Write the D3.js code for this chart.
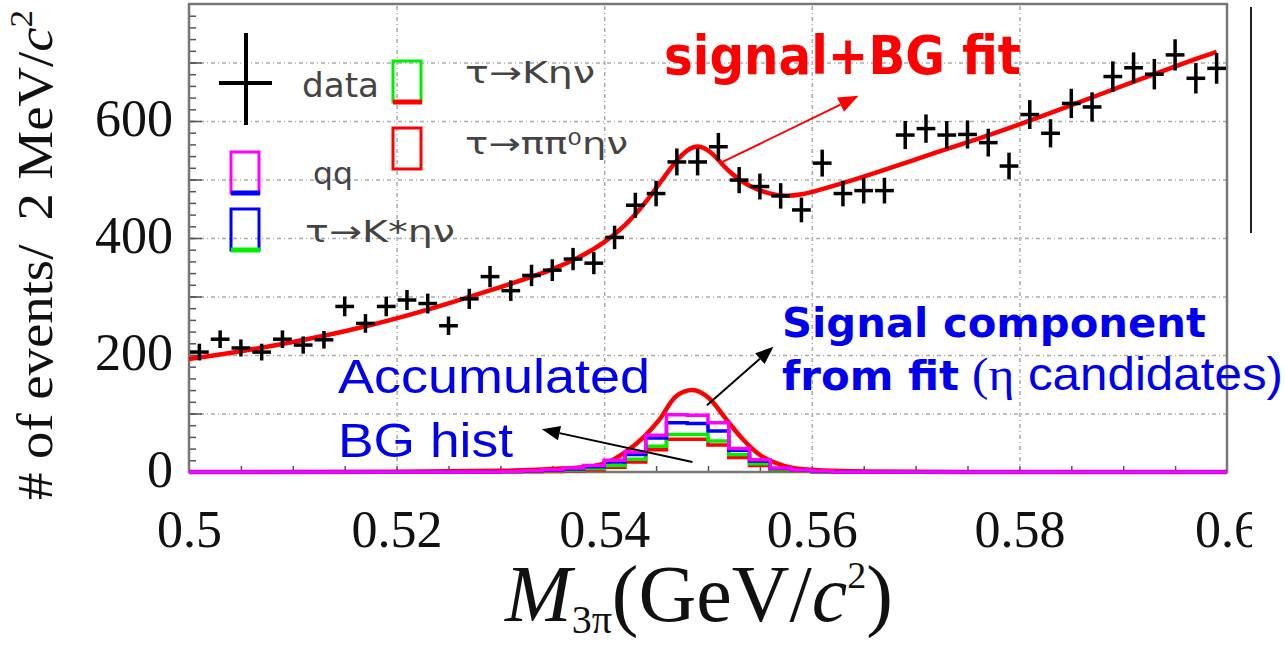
<!DOCTYPE html>
<html>
<head>
<meta charset="utf-8">
<script src="https://cdn.jsdelivr.net/npm/d3@7"></script>
<style>
body { margin: 0; background: white; }
svg { display: block; }
</style>
</head>
<body>
<svg id="chart" width="1285" height="646"></svg>
<script>
// M(3pi) spectrum, 2 MeV bins from 0.500 to 0.600 GeV/c^2
var binStart = 0.5, binWidth = 0.002;
var eventCounts = [205, 227, 212, 205, 227, 217, 226, 283, 254, 283,
                   294, 288, 250, 296, 334, 310, 336, 345, 364, 357,
                   401, 456, 476, 530, 530, 556, 499, 488, 472, 448,
                   528, 476, 481, 481, 576, 587, 576, 577, 563, 523,
                   611, 579, 630, 624, 676, 691, 680, 713, 673, 690];

// signal + BG fit
var fitMass = [0.500, 0.505, 0.510, 0.515, 0.520, 0.525, 0.530, 0.535, 0.538, 0.540,
               0.542, 0.544, 0.546, 0.5475, 0.549, 0.5505, 0.552, 0.554, 0.556, 0.5575,
               0.559, 0.5605, 0.564, 0.568, 0.572, 0.576, 0.580, 0.584, 0.588, 0.592, 0.596, 0.599];
var fitValue = [193, 206, 222, 240, 262, 288, 316, 345, 370, 392,
                420, 460, 510, 545, 562, 545, 512, 487, 475, 471,
                474, 481, 499, 522, 547, 569, 594, 620, 647, 674, 700, 718];

// signal component from fit (eta candidates)
var sigMass = [0.500, 0.520, 0.530, 0.535, 0.5389, 0.5405, 0.5421, 0.5437, 0.5453, 0.5469, 0.5485,
               0.5501, 0.5518, 0.5534, 0.5550, 0.5566, 0.5582, 0.5607, 0.5655, 0.575, 0.600];
var sigValue = [0, 0.5, 2, 5, 10, 18, 35, 58, 89, 129, 140,
                126, 89, 55, 29, 15, 7, 3, 1, 0, 0];

// accumulated BG histograms (stacked heights), bins from 0.530 to 0.562
var histStart = 0.530;
var stackPipi0 = [0.3, 0.5, 1, 2, 4, 8, 17, 38, 56, 56, 46, 25, 11, 3, 1.5, 0.3];
var stackKeta  = [0.5, 1, 2, 3.5, 6, 11, 22, 44, 64, 64, 53, 30, 14, 4, 2, 0.5];
var stackKstar = [1, 1.5, 3, 5, 9, 17, 30, 58, 84, 83, 70, 37, 19, 6, 3, 1];
var stackQQ    = [1, 2, 4, 7, 11, 20, 34, 63, 98, 97, 84, 40, 21, 7, 3.5, 1.5];

var yLabelTicks = [0, 200, 400, 600];
var yGridTicks = [100, 200, 300, 400, 500, 600, 700];
var xTicks = [0.5, 0.52, 0.54, 0.56, 0.58, 0.6];
var xTickLabels = ["0.5", "0.52", "0.54", "0.56", "0.58", "0.6"];

var svg = d3.select("#chart");
var x = d3.scaleLinear().domain([0.5, 0.6]).range([189, 1227]);
var y = d3.scaleLinear().domain([0, 800]).range([472, 4]);

var SERIF = "'Liberation Serif', 'Times New Roman', serif";
var SANS = "'DejaVu Sans', Verdana, sans-serif";
var ARIAL = "'Liberation Sans', Arial, sans-serif";

function drawFrame() {
    // dotted grid
    svg.append("g")
        .attr("transform", "translate(189,0)")
        .call(d3.axisRight(y).tickValues(yGridTicks).tickSize(1038).tickFormat(""))
        .call(g => g.select(".domain").remove())
        .selectAll("line").attr("stroke", "#aaa").attr("stroke-width", 1.5).attr("stroke-dasharray", "4,3,1,3");
    svg.append("g")
        .attr("transform", "translate(0,472)")
        .call(d3.axisTop(x).tickValues(xTicks.slice(1, -1)).tickSize(468).tickFormat(""))
        .call(g => g.select(".domain").remove())
        .selectAll("line").attr("stroke", "#aaa").attr("stroke-width", 1.5).attr("stroke-dasharray", "4,3,1,3");

    // inner ticks
    svg.append("g")
        .attr("transform", "translate(189,0)")
        .call(d3.axisRight(y).tickValues(d3.range(20, 800, 20)).tickSize(7).tickFormat(""))
        .call(g => g.select(".domain").remove())
        .selectAll("line").attr("stroke", "#555").attr("stroke-width", 1.5);
    svg.append("g")
        .attr("transform", "translate(189,0)")
        .call(d3.axisRight(y).tickValues(d3.range(100, 800, 100)).tickSize(13).tickFormat(""))
        .call(g => g.select(".domain").remove())
        .selectAll("line").attr("stroke", "#555").attr("stroke-width", 1.5);
    svg.append("g")
        .attr("transform", "translate(0,472)")
        .call(d3.axisTop(x).tickValues(d3.range(0.505, 0.6, 0.005)).tickSize(6).tickFormat(""))
        .call(g => g.select(".domain").remove())
        .selectAll("line").attr("stroke", "#555").attr("stroke-width", 1.5);

    svg.append("rect")
        .attr("x", x(0.5)).attr("y", y(800))
        .attr("width", x(0.6) - x(0.5)).attr("height", y(0) - y(800))
        .attr("fill", "none").attr("stroke", "#777").attr("stroke-width", 2.5);

    // tick labels
    var yl = svg.append("g")
        .attr("transform", "translate(173,0)")
        .call(d3.axisLeft(y).tickValues(yLabelTicks).tickSize(0).tickPadding(0));
    yl.select(".domain").remove();
    yl.selectAll("text")
        .attr("font-family", SERIF).attr("font-size", 52).attr("fill", "#111")
        .attr("dy", null).attr("y", 14);

    // the right-most label is cut by the picture border
    svg.append("clipPath").attr("id", "label-clip")
        .append("rect").attr("x", 0).attr("y", 480).attr("width", 1252).attr("height", 80);
    var xl = svg.append("g").attr("clip-path", "url(#label-clip)");
    xl.append("g")
        .attr("transform", "translate(0,547)")
        .call(d3.axisBottom(x).tickValues(xTicks).tickSize(0).tickPadding(0)
            .tickFormat((d, i) => xTickLabels[i]))
        .call(g => g.select(".domain").remove())
        .selectAll("text")
        .attr("font-family", SERIF).attr("font-size", 52).attr("fill", "#111")
        .attr("dy", null).attr("y", 0);

    // vertical bar outside the frame
    svg.append("line")
        .attr("x1", 1251).attr("x2", 1251).attr("y1", 7).attr("y2", 233)
        .attr("stroke", "#222").attr("stroke-width", 2);
}

function drawTitles() {
    var xt = svg.append("text")
        .attr("x", 505).attr("y", 621)
        .attr("font-family", SERIF).attr("font-size", 80).attr("fill", "#111");
    xt.append("tspan").attr("font-style", "italic").text("M");
    xt.append("tspan").attr("font-size", 40).attr("dy", 12).text("3π");
    xt.append("tspan").attr("dy", -12).text("(GeV/");
    xt.append("tspan").attr("font-style", "italic").text("c");
    xt.append("tspan").attr("font-size", 38).attr("dy", -33).text("2");
    xt.append("tspan").attr("dy", 33).text(")");

    var yt = svg.append("text")
        .attr("transform", "translate(52,500) rotate(-90)")
        .attr("font-family", SERIF).attr("font-size", 50).attr("fill", "#111")
        .attr("textLength", 490).attr("lengthAdjust", "spacingAndGlyphs");
    yt.append("tspan").text("# of events/");
    yt.append("tspan").attr("dx", 22).text("2 MeV/");
    yt.append("tspan").attr("font-style", "italic").text("c");
    yt.append("tspan").attr("font-size", 32).attr("dy", -20).text("2");
}

function histPoints(values) {
    var pts = [[0.5, 0]];
    values.forEach(function (v, i) { pts.push([histStart + i * binWidth, v]); });
    pts.push([histStart + values.length * binWidth, 0]);
    pts.push([0.6, 0]);
    return pts;
}

function drawCurves() {
    var line = d3.line().x(d => x(d[0])).y(d => y(d[1]));

    // signal component (drawn under the histograms)
    svg.append("path")
        .datum(d3.zip(sigMass, sigValue))
        .attr("fill", "none").attr("stroke", "#ff0000").attr("stroke-width", 4.5)
        .attr("d", line.curve(d3.curveMonotoneX));

    var stacks = [
        { v: stackPipi0, c: "#ff0000" },
        { v: stackKeta, c: "#00ee00" },
        { v: stackKstar, c: "#0000ff" },
        { v: stackQQ, c: "#ff00ff" }
    ];
    var stepLine = d3.line().x(d => x(d[0])).y(d => y(d[1])).curve(d3.curveStepAfter);
    stacks.forEach(function (s) {
        svg.append("path")
            .datum(histPoints(s.v))
            .attr("fill", "none").attr("stroke", s.c).attr("stroke-width", 3.5)
            .attr("d", stepLine);
    });

    svg.append("path")
        .datum(d3.zip(fitMass, fitValue))
        .attr("fill", "none").attr("stroke", "#ff0000").attr("stroke-width", 4.5)
        .attr("d", d3.line().x(d => x(d[0])).y(d => y(d[1])).curve(d3.curveBasis));
}

function drawData() {
    var hw = (x(binWidth) - x(0)) / 2 - 1;
    var pts = svg.append("g").selectAll("g")
        .data(eventCounts)
        .enter().append("g")
        .attr("transform", (d, i) => "translate(" + x(binStart + (i + 0.5) * binWidth) + ",0)");
    pts.append("line")
        .attr("x1", -hw).attr("x2", hw)
        .attr("y1", d => y(d)).attr("y2", d => y(d))
        .attr("stroke", "#000").attr("stroke-width", 3.5);
    pts.append("line")
        .attr("x1", 0).attr("x2", 0)
        .attr("y1", d => y(d - Math.sqrt(d))).attr("y2", d => y(d + Math.sqrt(d)))
        .attr("stroke", "#000").attr("stroke-width", 3.5);
}

function drawLegend() {
    svg.append("line").attr("x1", 246).attr("x2", 246).attr("y1", 33).attr("y2", 125)
        .attr("stroke", "#000").attr("stroke-width", 4);
    svg.append("line").attr("x1", 219).attr("x2", 272).attr("y1", 83).attr("y2", 83)
        .attr("stroke", "#000").attr("stroke-width", 4);

    var boxes = [
        { x: 393, y: 61, c: "#00ee00", b: "#ff0000" },
        { x: 393, y: 128, c: "#ff0000", b: null },
        { x: 231, y: 152, c: "#ff00ff", b: "#0000ff" },
        { x: 231, y: 209, c: "#0000ff", b: "#00ee00" }
    ];
    boxes.forEach(function (bx) {
        svg.append("rect").attr("x", bx.x).attr("y", bx.y).attr("width", 28).attr("height", 41)
            .attr("fill", "none").attr("stroke", bx.c).attr("stroke-width", 3);
        if (bx.b) {
            svg.append("line").attr("x1", bx.x).attr("x2", bx.x + 29)
                .attr("y1", bx.y + 41).attr("y2", bx.y + 41)
                .attr("stroke", bx.b).attr("stroke-width", 5);
        }
    });

    var lg = [
        { t: "data", x: 302, y: 97, fs: 34, w: 77 },
        { t: "τ→Kην", x: 465, y: 83, fs: 30, w: 130 },
        { t: "qq", x: 313, y: 184, fs: 30, w: 40 },
        { t: "τ→K*ην", x: 305, y: 242, fs: 30, w: 150 }
    ];
    lg.forEach(function (d) {
        svg.append("text").attr("x", d.x).attr("y", d.y)
            .attr("font-family", SANS).attr("font-size", d.fs).attr("fill", "#444")
            .attr("textLength", d.w).attr("lengthAdjust", "spacingAndGlyphs")
            .text(d.t);
    });
    var pp = svg.append("text").attr("x", 465).attr("y", 154)
        .attr("font-family", SANS).attr("font-size", 30).attr("fill", "#444")
        .attr("textLength", 163).attr("lengthAdjust", "spacingAndGlyphs");
    pp.append("tspan").text("τ→ππ");
    pp.append("tspan").attr("font-size", 18).attr("dy", -9).text("0");
    pp.append("tspan").attr("dy", 9).text("ην");
}

function arrow(from, to, color, size) {
    var x1 = x(from[0]), y1 = y(from[1]), x2 = x(to[0]), y2 = y(to[1]);
    var ang = Math.atan2(y2 - y1, x2 - x1);
    var bx = x2 - size * Math.cos(ang), by = y2 - size * Math.sin(ang);
    var px = Math.sin(ang) * size * 0.4, py = -Math.cos(ang) * size * 0.4;
    svg.append("line").attr("x1", x1).attr("y1", y1).attr("x2", bx).attr("y2", by)
        .attr("stroke", color).attr("stroke-width", 2);
    svg.append("path")
        .attr("d", "M" + x2 + "," + y2 + "L" + (bx + px) + "," + (by + py) + "L" + (bx - px) + "," + (by - py) + "Z")
        .attr("fill", color);
}

function drawAnnotations() {
    svg.append("text").attr("x", 664).attr("y", 74)
        .attr("font-family", SANS).attr("font-weight", "bold").attr("font-size", 54)
        .attr("fill", "#ff0000")
        .attr("textLength", 357).attr("lengthAdjust", "spacingAndGlyphs")
        .text("signal+BG fit");
    arrow([0.5514, 530], [0.5645, 643], "#ff0000", 20);

    svg.append("text").attr("x", 782).attr("y", 337)
        .attr("font-family", SANS).attr("font-weight", "bold").attr("font-size", 41)
        .attr("fill", "#0000ee")
        .attr("textLength", 424).attr("lengthAdjust", "spacingAndGlyphs")
        .text("Signal component");
    svg.append("text").attr("x", 782).attr("y", 390)
        .attr("font-family", SANS).attr("font-weight", "bold").attr("font-size", 41)
        .attr("fill", "#0000ee")
        .attr("textLength", 177).attr("lengthAdjust", "spacingAndGlyphs")
        .text("from fit");
    var cand = svg.append("text").attr("x", 972).attr("y", 390)
        .attr("font-family", ARIAL).attr("font-size", 46).attr("fill", "#0000ee")
        .attr("textLength", 311).attr("lengthAdjust", "spacingAndGlyphs");
    cand.append("tspan").attr("font-family", SERIF).text("(η");
    cand.append("tspan").text(" candidates)");
    arrow([0.5499, 114], [0.5563, 214], "#000", 18);

    svg.append("text").attr("x", 338).attr("y", 393)
        .attr("font-family", ARIAL).attr("font-size", 49).attr("fill", "#0000ee")
        .attr("textLength", 312).attr("lengthAdjust", "spacingAndGlyphs")
        .text("Accumulated");
    svg.append("text").attr("x", 338).attr("y", 457)
        .attr("font-family", ARIAL).attr("font-size", 49).attr("fill", "#0000ee")
        .attr("textLength", 175).attr("lengthAdjust", "spacingAndGlyphs")
        .text("BG hist");
    arrow([0.5485, 17], [0.5340, 73], "#000", 18);
}

drawFrame();
drawCurves();
drawData();
drawLegend();
drawTitles();
drawAnnotations();
</script>
</body>
</html>
